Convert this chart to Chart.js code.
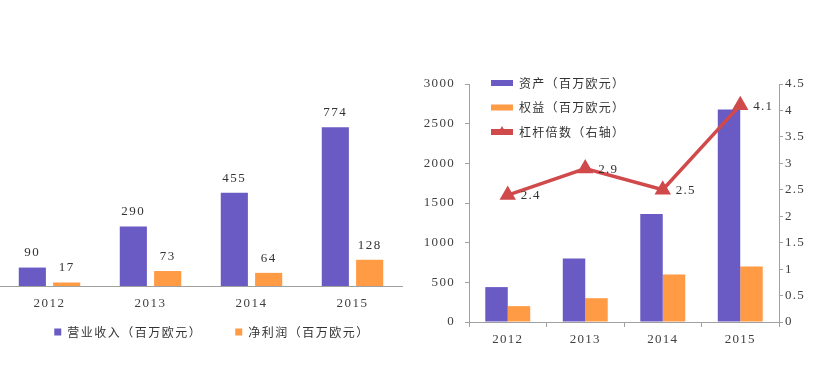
<!DOCTYPE html>
<html>
<head>
<meta charset="utf-8">
<script src="https://cdn.jsdelivr.net/npm/chart.js@4.4.1/dist/chart.umd.min.js"></script>
<style>
  html, body { margin: 0; padding: 0; background: #fff; }
  #wrap { position: relative; width: 815px; height: 372px; overflow: hidden; }
  #left { position: absolute; left: -1px; top: 0; width: 404px; height: 372px; }
  #right { position: absolute; left: 410px; top: 0; width: 405px; height: 372px; }
</style>
</head>
<body>
<div id="wrap">
  <div id="left"><canvas id="revChart"></canvas></div>
  <div id="right"><canvas id="assetChart"></canvas></div>
</div>
<script>
// --- Données ---
const years = ["2012", "2013", "2014", "2015"];
const revenue = [90, 290, 455, 774];
const netProfit = [17, 73, 64, 128];
const assets = [440, 800, 1360, 2680];
const equity = [200, 300, 600, 700];
const leverage = [2.4, 2.9, 2.5, 4.1];

const purple = "#6A5BC4";
const orange = "#FF9A45";
const red = "#D0494B";
const axisGrey = "#A0A0A0";
const textGrey = "#404040";
const numFont = '"Liberation Serif", "DejaVu Serif", serif';
const cjkFont = '"Noto Sans CJK SC", "Noto Sans", sans-serif';

// espacement des lettres (les chiffres sont très espacés dans l'original)
function spacing(px) {
  return {
    id: "spacing",
    beforeLayout(c) { c.ctx.letterSpacing = px; },
    beforeDraw(c) { c.ctx.letterSpacing = px; },
  };
}

// --- Graphique gauche : CA / résultat net ---
const barLabels = {
  id: "barLabels",
  afterDatasetsDraw(chart) {
    const ctx = chart.ctx;
    ctx.save();
    ctx.font = "13px " + numFont;
    ctx.fillStyle = "#333";
    ctx.textAlign = "center";
    ctx.textBaseline = "middle";
    chart.data.datasets.forEach((ds, i) => {
      chart.getDatasetMeta(i).data.forEach((bar, j) => {
        ctx.fillText(String(ds.data[j]), bar.x, bar.y - 14.5);
      });
    });
    ctx.restore();
  },
};

// la légende du bas est remontée et décalée pour coller à l'original
const bottomLegendShift = {
  id: "bottomLegendShift",
  afterLayout(chart) {
    const lg = chart.legend;
    lg.top -= 23; lg.bottom -= 23;
    lg.left += 11; lg.right += 11;
  },
};

new Chart(document.getElementById("revChart"), {
  type: "bar",
  data: {
    labels: years,
    datasets: [
      { label: "营业收入（百万欧元）", data: revenue, backgroundColor: purple },
      { label: "净利润（百万欧元）", data: netProfit, backgroundColor: orange },
    ],
  },
  options: {
    responsive: true,
    maintainAspectRatio: false,
    animation: false,
    categoryPercentage: 0.68,
    barPercentage: 0.79,
    layout: { padding: { top: 81, bottom: 1, left: 0, right: 0 } },
    plugins: {
      tooltip: { enabled: false },
      legend: {
        position: "bottom",
        labels: {
          boxWidth: 7, boxHeight: 7, padding: 33,
          color: "#333",
          font: { family: cjkFont, size: 12 },
        },
      },
    },
    scales: {
      x: {
        grid: { display: false, drawTicks: false },
        border: { display: true, color: axisGrey, width: 1 },
        ticks: { color: textGrey, padding: 10, font: { family: numFont, size: 13 } },
        afterFit(s) { s.height = 30; },
      },
      y: { display: false, min: 0, max: 1000 },
    },
  },
  plugins: [spacing("1.5px"), barLabels, bottomLegendShift],
});

// --- Graphique droit : actifs / fonds propres / levier ---
const pointLabels = {
  id: "pointLabels",
  afterDatasetsDraw(chart) {
    const ctx = chart.ctx;
    ctx.save();
    ctx.font = "13px " + numFont;
    ctx.fillStyle = "#333";
    ctx.textAlign = "left";
    ctx.textBaseline = "middle";
    chart.getDatasetMeta(2).data.forEach((pt, j) => {
      ctx.fillText(String(leverage[j]), pt.x + 13, pt.y + 1);
    });
    ctx.restore();
  },
};

const legendBox = { left: 68.5, top: 64.5, pad: 12.5, item: 12, boxW: 22 };
const legendPlace = {
  id: "legendPlace",
  afterLayout(chart) {
    const lg = chart.legend;
    lg.left = legendBox.left;
    lg.top = legendBox.top;
    lg.right = lg.left + 220;
    lg.bottom = lg.top + 110;
  },
  afterDraw(chart) {
    // triangle sur le symbole de la ligne dans la légende
    const ctx = chart.ctx;
    const x = legendBox.left + legendBox.pad + legendBox.boxW / 2;
    const y = legendBox.top + legendBox.pad + 2 * (legendBox.item + legendBox.pad) + legendBox.item / 2;
    const r = 6;
    ctx.save();
    ctx.fillStyle = red;
    ctx.beginPath();
    ctx.moveTo(x, y - r);
    ctx.lineTo(x + r * 0.866, y + r * 0.5);
    ctx.lineTo(x - r * 0.866, y + r * 0.5);
    ctx.closePath();
    ctx.fill();
    ctx.restore();
  },
};

new Chart(document.getElementById("assetChart"), {
  data: {
    labels: years,
    datasets: [
      { type: "bar", label: "资产（百万欧元）", data: assets, backgroundColor: purple, yAxisID: "y", order: 1 },
      { type: "bar", label: "权益（百万欧元）", data: equity, backgroundColor: orange, yAxisID: "y", order: 1 },
      {
        type: "line", label: "杠杆倍数（右轴）", data: leverage, yAxisID: "y1", order: 0,
        borderColor: red, backgroundColor: red, borderWidth: 3.5,
        pointStyle: "triangle", pointRadius: 6, pointBackgroundColor: red, pointBorderColor: red,
        tension: 0, fill: false,
      },
    ],
  },
  options: {
    responsive: true,
    maintainAspectRatio: false,
    animation: false,
    categoryPercentage: 0.58,
    barPercentage: 1,
    layout: { padding: { top: 84, bottom: 0, left: 0, right: 0 } },
    plugins: {
      tooltip: { enabled: false },
      legend: {
        position: "chartArea",
        align: "start",
        labels: {
          boxWidth: legendBox.boxW, boxHeight: 6, padding: legendBox.pad,
          color: "#333",
          font: { family: cjkFont, size: legendBox.item },
          generateLabels(chart) {
            const items = Chart.defaults.plugins.legend.labels.generateLabels(chart);
            items.forEach((it) => { it.lineWidth = 0; });
            return items.sort((a, b) => a.datasetIndex - b.datasetIndex);
          },
        },
      },
    },
    scales: {
      x: {
        grid: { display: true, drawOnChartArea: false, drawTicks: true, tickLength: 5, color: axisGrey, offset: true },
        border: { display: true, color: axisGrey },
        ticks: { color: textGrey, padding: 5, font: { family: numFont, size: 13 } },
        afterFit(s) { s.height = 50; },
      },
      y: {
        position: "left",
        min: 0, max: 3000,
        grid: { display: true, drawOnChartArea: false, drawTicks: true, tickLength: 4, color: axisGrey },
        border: { display: true, color: axisGrey },
        ticks: {
          stepSize: 500, color: textGrey, padding: 10, font: { family: numFont, size: 13 },
          callback: (v) => String(v),
        },
        afterFit(s) { s.width = 59; },
      },
      y1: {
        position: "right",
        min: 0, max: 4.5,
        grid: { display: true, drawOnChartArea: false, drawTicks: true, tickLength: 4, color: axisGrey },
        border: { display: true, color: axisGrey },
        ticks: {
          stepSize: 0.5, color: textGrey, padding: 2, font: { family: numFont, size: 13 },
          callback: (v) => String(Math.round(v * 10) / 10),
        },
        afterFit(s) { s.width = 36; },
      },
    },
  },
  plugins: [spacing("1.3px"), pointLabels, legendPlace],
});
</script>
</body>
</html>
